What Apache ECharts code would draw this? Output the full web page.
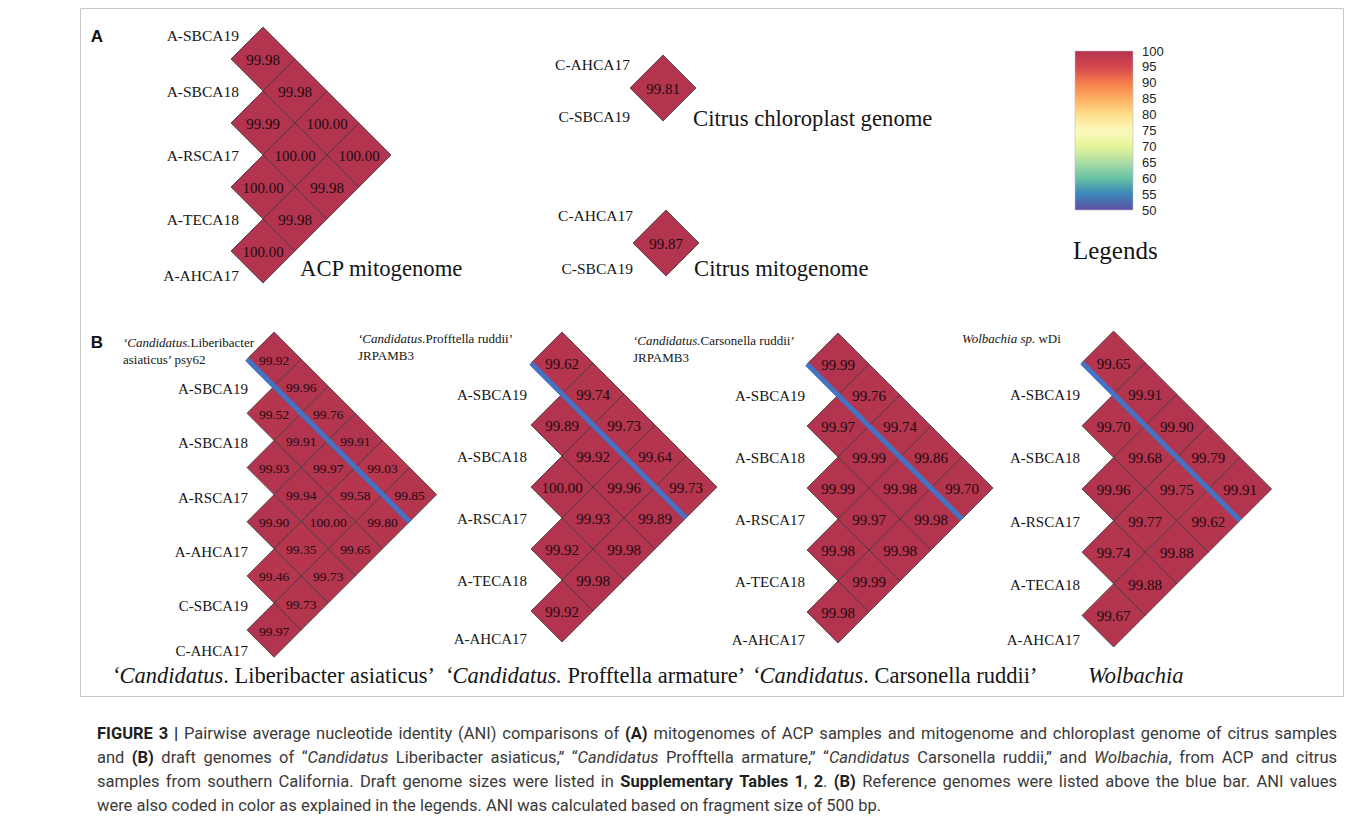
<!DOCTYPE html>
<html>
<head>
<meta charset="utf-8">
<title>Pairwise ANI comparisons</title>
<script src="https://cdn.jsdelivr.net/npm/echarts@6/dist/echarts.min.js"></script>
<style>
html, body { margin: 0; padding: 0; background: #fff; }
#chart { width: 1360px; height: 825px; }
</style>
</head>
<body>
<div id="chart"></div>
<script>
// ---- values ----
// each ANI table: row i lists identity of item i against items i+1, i+2, ...

// (A) ACP mitogenome
var acpSamples = ['A-SBCA19', 'A-SBCA18', 'A-RSCA17', 'A-TECA18', 'A-AHCA17'];
var acpAni = [
    [99.98, 99.98, 100.00, 100.00],
    [99.99, 100.00, 99.98],
    [100.00, 99.98],
    [100.00]
];

// (A) citrus
var citrusSamples = ['C-AHCA17', 'C-SBCA19'];
var chloroplastAni = [[99.81]];
var citrusMitoAni = [[99.87]];

// (B) draft genomes, first item is the reference genome
var lasSamples = ['psy62', 'A-SBCA19', 'A-SBCA18', 'A-RSCA17', 'A-AHCA17', 'C-SBCA19', 'C-AHCA17'];
var lasAni = [
    [99.92, 99.96, 99.76, 99.91, 99.03, 99.85],
    [99.52, 99.91, 99.97, 99.58, 99.80],
    [99.93, 99.94, 100.00, 99.65],
    [99.90, 99.35, 99.73],
    [99.46, 99.73],
    [99.97]
];
var acpDraftSamples = ['JRPAMB3', 'A-SBCA19', 'A-SBCA18', 'A-RSCA17', 'A-TECA18', 'A-AHCA17'];
var wolSamples = ['wDi', 'A-SBCA19', 'A-SBCA18', 'A-RSCA17', 'A-TECA18', 'A-AHCA17'];
var proAni = [
    [99.62, 99.74, 99.73, 99.64, 99.73],
    [99.89, 99.92, 99.96, 99.89],
    [100.00, 99.93, 99.98],
    [99.92, 99.98],
    [99.92]
];
var carAni = [
    [99.99, 99.76, 99.74, 99.86, 99.70],
    [99.97, 99.99, 99.98, 99.98],
    [99.99, 99.97, 99.98],
    [99.98, 99.99],
    [99.98]
];
var wolAni = [
    [99.65, 99.91, 99.90, 99.79, 99.91],
    [99.70, 99.68, 99.75, 99.62],
    [99.96, 99.77, 99.88],
    [99.74, 99.88],
    [99.67]
];

// colour legend
var legendRange = [50, 100];
var legendStep = 5;
var legendColors = ['#5e4fa2', '#3a86b8', '#66c2a5', '#abdda4', '#e6f598', '#fbf8bd',
    '#fee08b', '#fdae61', '#f47c4a', '#d5464f', '#b2344e'];

var SERIF = '"Liberation Serif", "DejaVu Serif", serif';
var SANS = '"Liberation Sans", Arial, sans-serif';

// layout of each triangle: left/top of grid and half-diagonal s of a cell (px)
var panels = [
    {names: acpSamples, ani: acpAni, left: 231, top: 27, s: 32, valueSize: 15, labelSize: 15.5, labelDx: 8, labelDy: 0, firstDy: 8, lastDy: -8},
    {names: citrusSamples, ani: chloroplastAni, left: 630, top: 55, s: 33, valueSize: 15, labelSize: 15.5, labelDx: 0, labelDy: 0, firstDy: 9, lastDy: -5},
    {names: citrusSamples, ani: citrusMitoAni, left: 633, top: 210, s: 33, valueSize: 15, labelSize: 15.5, labelDx: 0, labelDy: 0, firstDy: 5, lastDy: -8},
    {names: lasSamples, ani: lasAni, ref: true, left: 247, top: 332, s: 27.1, valueSize: 13.5, labelSize: 15, labelDx: 1, labelDy: 3, firstDy: 0, lastDy: -9},
    {names: acpDraftSamples, ani: proAni, ref: true, left: 531, top: 332, s: 31, valueSize: 15, labelSize: 15, labelDx: -4, labelDy: 1, firstDy: 0, lastDy: -4},
    {names: acpDraftSamples, ani: carAni, ref: true, left: 807, top: 333, s: 31, valueSize: 15, labelSize: 15, labelDx: -2, labelDy: 1, firstDy: 0, lastDy: -4},
    {names: wolSamples, ani: wolAni, ref: true, left: 1082, top: 331, s: 31.6, valueSize: 15, labelSize: 15, labelDx: -2, labelDy: 1, firstDy: 0, lastDy: -8}
];

// pair (i, j) -> rotated cell position [u, v, value]
function toCells(ani) {
    var cells = [];
    ani.forEach(function (row, i) {
        row.forEach(function (val, k) {
            var j = i + 1 + k;
            cells.push([j - i - 1, i + j - 1, val]);
        });
    });
    return cells;
}

function cellRenderer(p) {
    return function (params, api) {
        var u = api.value(0), v = api.value(1);
        var pts = [[u, v - 1], [u + 1, v], [u, v + 1], [u - 1, v]].map(function (q) {
            return api.coord(q);
        });
        var c = api.coord([u, v]);
        return {
            type: 'group',
            children: [{
                type: 'polygon',
                shape: {points: pts},
                style: {fill: api.visual('color'), stroke: '#3a3a3a', lineWidth: 0.8}
            }, {
                type: 'text',
                x: c[0],
                y: c[1] + 1,
                style: {
                    text: api.value(2).toFixed(2),
                    fill: '#1d0a0e',
                    fontSize: p.valueSize,
                    fontFamily: SERIF,
                    align: 'center',
                    verticalAlign: 'middle'
                }
            }]
        };
    };
}

function labelRenderer(p) {
    var n = p.names.length;
    return function (params, api) {
        var i = api.value(2);
        var c = api.coord([api.value(0), api.value(1)]);
        var dy = p.labelDy + (i === 0 ? p.firstDy : (i === n - 1 ? p.lastDy : 0));
        return {
            type: 'text',
            x: c[0] + p.labelDx,
            y: c[1] + dy,
            style: {
                text: p.names[i],
                fill: '#151515',
                fontSize: p.labelSize,
                fontFamily: SERIF,
                align: 'right',
                verticalAlign: 'middle'
            }
        };
    };
}

function blueBarRenderer(params, api) {
    var a = api.coord([api.value(0), api.value(1)]);
    var b = api.coord([api.value(2), api.value(3)]);
    return {
        type: 'line',
        shape: {x1: a[0], y1: a[1], x2: b[0], y2: b[1]},
        style: {stroke: '#4472c4', lineWidth: 5}
    };
}

var grids = [], xAxes = [], yAxes = [], series = [], cellSeries = [];
panels.forEach(function (p, gi) {
    var n = p.names.length;
    grids.push({left: p.left, top: p.top, width: n * p.s, height: (2 * n - 2) * p.s});
    xAxes.push({type: 'value', gridIndex: gi, min: -1, max: n - 1, show: false});
    yAxes.push({type: 'value', gridIndex: gi, min: -1, max: 2 * n - 3, inverse: true, show: false});
    cellSeries.push(series.length);
    series.push({
        type: 'custom', xAxisIndex: gi, yAxisIndex: gi, silent: true,
        data: toCells(p.ani), renderItem: cellRenderer(p)
    });
    var labelData = [];
    p.names.forEach(function (nm, i) {
        if (!(p.ref && i === 0)) labelData.push([-1, 2 * i - 1, i]);
    });
    series.push({
        type: 'custom', xAxisIndex: gi, yAxisIndex: gi, silent: true,
        data: labelData, renderItem: labelRenderer(p)
    });
    if (p.ref) {
        // bar under the reference row: along the lower-left edges of its cells
        series.push({
            type: 'custom', xAxisIndex: gi, yAxisIndex: gi, silent: true,
            data: [[-1, 0, n - 2, n - 1]], renderItem: blueBarRenderer
        });
    }
});

// legend bar as its own grid, ticks from the axis
var lg = grids.length;
grids.push({left: 1075, top: 51, width: 58, height: 159});
xAxes.push({type: 'value', gridIndex: lg, min: 0, max: 1, show: false});
yAxes.push({
    type: 'value', gridIndex: lg, min: legendRange[0], max: legendRange[1], interval: legendStep,
    position: 'right',
    axisLine: {show: false}, axisTick: {show: false}, splitLine: {show: false},
    axisLabel: {color: '#222', fontSize: 13, fontFamily: SANS, margin: 9}
});
series.push({
    type: 'custom', xAxisIndex: lg, yAxisIndex: lg, silent: true,
    data: [[0, legendRange[0], 1, legendRange[1]]],
    renderItem: function (params, api) {
        var a = api.coord([api.value(0), api.value(1)]);
        var b = api.coord([api.value(2), api.value(3)]);
        var stops = legendColors.map(function (c, k) {
            return {offset: k / (legendColors.length - 1), color: c};
        });
        return {
            type: 'rect',
            shape: {x: a[0], y: b[1], width: b[0] - a[0], height: a[1] - b[1]},
            style: {fill: new echarts.graphic.LinearGradient(0, 1, 0, 0, stops), stroke: '#c8b8d8', lineWidth: 0.6}
        };
    }
});

// ---- texts ----
function serifText(x, y, text, size, extra) {
    var st = {text: text, fill: '#151515', fontSize: size, fontFamily: SERIF, align: 'left', verticalAlign: 'middle'};
    for (var k in extra) st[k] = extra[k];
    return {type: 'text', x: x, y: y, silent: true, style: st};
}

var refRich = {
    i: {fontStyle: 'italic', fontSize: 13, fontFamily: SERIF, fill: '#151515', lineHeight: 17},
    n: {fontSize: 13, fontFamily: SERIF, fill: '#151515', lineHeight: 17}
};
function refLabel(x, y, text) {
    return {type: 'text', x: x, y: y, silent: true,
        style: {text: text, rich: refRich, align: 'left', verticalAlign: 'top'}};
}

var titleRich = {
    i: {fontStyle: 'italic', fontSize: 22.5, fontFamily: SERIF, fill: '#151515'},
    n: {fontSize: 22.5, fontFamily: SERIF, fill: '#151515'}
};
function bottomTitle(x, text) {
    return {type: 'text', x: x, y: 675, silent: true,
        style: {text: text, rich: titleRich, align: 'left', verticalAlign: 'middle'}};
}

// caption, laid out word by word so that the lines are justified
var capLines = [
    [['b', 'FIGURE 3 |'], ['n', ' Pairwise average nucleotide identity (ANI) comparisons of '], ['b', '(A)'],
        ['n', ' mitogenomes of ACP samples and mitogenome and chloroplast genome of citrus samples']],
    [['n', 'and '], ['b', '(B)'], ['n', ' draft genomes of \u201c'], ['i', 'Candidatus'],
        ['n', ' Liberibacter asiaticus,\u201d \u201c'], ['i', 'Candidatus'], ['n', ' Profftella armature,\u201d \u201c'],
        ['i', 'Candidatus'], ['n', ' Carsonella ruddii,\u201d and '], ['i', 'Wolbachia'], ['n', ', from ACP and citrus']],
    [['n', 'samples from southern California. Draft genome sizes were listed in '], ['b', 'Supplementary Tables 1'],
        ['n', ', '], ['b', '2'], ['n', '. '], ['b', '(B)'],
        ['n', ' Reference genomes were listed above the blue bar. ANI values']],
    [['n', 'were also coded in color as explained in the legends. ANI was calculated based on fragment size of 500 bp.']]
];
var CAP_SIZE = 16.5, CAP_FAMILY = 'Roboto';
function capFont(st) {
    return (st === 'i' ? 'italic ' : '') + (st === 'b' ? 'bold ' : '') + CAP_SIZE + 'px ' + CAP_FAMILY;
}
function captionElements(left, right, top, lead) {
    var ctx = document.createElement('canvas').getContext('2d');
    var els = [];
    capLines.forEach(function (runs, li) {
        var words = [], cur = [];
        runs.forEach(function (r) {
            r[1].split(' ').forEach(function (part, k) {
                if (k > 0 && cur.length) { words.push(cur); cur = []; }
                if (part) cur.push({st: r[0], t: part});
            });
        });
        if (cur.length) words.push(cur);
        var total = 0;
        words.forEach(function (w) {
            w.forEach(function (pc) {
                ctx.font = capFont(pc.st);
                pc.w = ctx.measureText(pc.t).width;
                total += pc.w;
            });
        });
        ctx.font = capFont('n');
        var gap = li === capLines.length - 1 ? ctx.measureText(' ').width
            : (right - left - total) / (words.length - 1);
        var x = left, y = top + li * lead;
        words.forEach(function (w) {
            w.forEach(function (pc) {
                els.push({type: 'text', x: x, y: y, silent: true, style: {
                    text: pc.t, fill: pc.st === 'b' ? '#1f1f1f' : '#3a3a3a',
                    fontSize: CAP_SIZE, fontFamily: CAP_FAMILY,
                    fontWeight: pc.st === 'b' ? 'bold' : 'normal',
                    fontStyle: pc.st === 'i' ? 'italic' : 'normal',
                    align: 'left', verticalAlign: 'middle'
                }});
                x += pc.w;
            });
            x += gap;
        });
    });
    return els;
}

var graphics = [
    {type: 'rect', silent: true, shape: {x: 80.5, y: 8.5, width: 1263, height: 688},
        style: {fill: 'none', stroke: '#c8c8c8', lineWidth: 1}},
    {type: 'text', x: 97, y: 36, silent: true,
        style: {text: 'A', fontSize: 17, fontWeight: 'bold', fontFamily: SANS, fill: '#111', align: 'center', verticalAlign: 'middle'}},
    {type: 'text', x: 97, y: 342, silent: true,
        style: {text: 'B', fontSize: 17, fontWeight: 'bold', fontFamily: SANS, fill: '#111', align: 'center', verticalAlign: 'middle'}},
    serifText(300, 268, 'ACP mitogenome', 22.7),
    serifText(693, 118, 'Citrus chloroplast genome', 22.7),
    serifText(694, 268, 'Citrus mitogenome', 22.7),
    serifText(1073, 250, 'Legends', 25),
    refLabel(123, 334, '{i|\u2018Candidatus.}{n|Liberibacter}\n{n|asiaticus\u2019 psy62}'),
    refLabel(358, 330, '{i|\u2018Candidatus.}{n|Profftella ruddii\u2019}\n{n|JRPAMB3}'),
    refLabel(633, 332, '{i|\u2018Candidatus.}{n|Carsonella ruddii\u2019}\n{n|JRPAMB3}'),
    refLabel(962, 330, '{i|Wolbachia sp.}{n| wDi}'),
    bottomTitle(112, '{i|\u2018Candidatus}{n|. Liberibacter asiaticus\u2019}'),
    bottomTitle(445, '{i|\u2018Candidatus.}{n| Profftella armature\u2019}'),
    bottomTitle(752, '{i|\u2018Candidatus}{n|. Carsonella ruddii\u2019}'),
    bottomTitle(1088, '{i|Wolbachia}')
].concat(captionElements(97, 1337, 733, 24));

var chart = echarts.init(document.getElementById('chart'), null, {renderer: 'svg'});
chart.setOption({
    backgroundColor: '#fff',
    animation: false,
    grid: grids,
    xAxis: xAxes,
    yAxis: yAxes,
    visualMap: {
        type: 'continuous', show: false, min: legendRange[0], max: legendRange[1],
        dimension: 2, seriesIndex: cellSeries,
        inRange: {color: legendColors}
    },
    series: series,
    graphic: graphics
});
</script>
</body>
</html>
